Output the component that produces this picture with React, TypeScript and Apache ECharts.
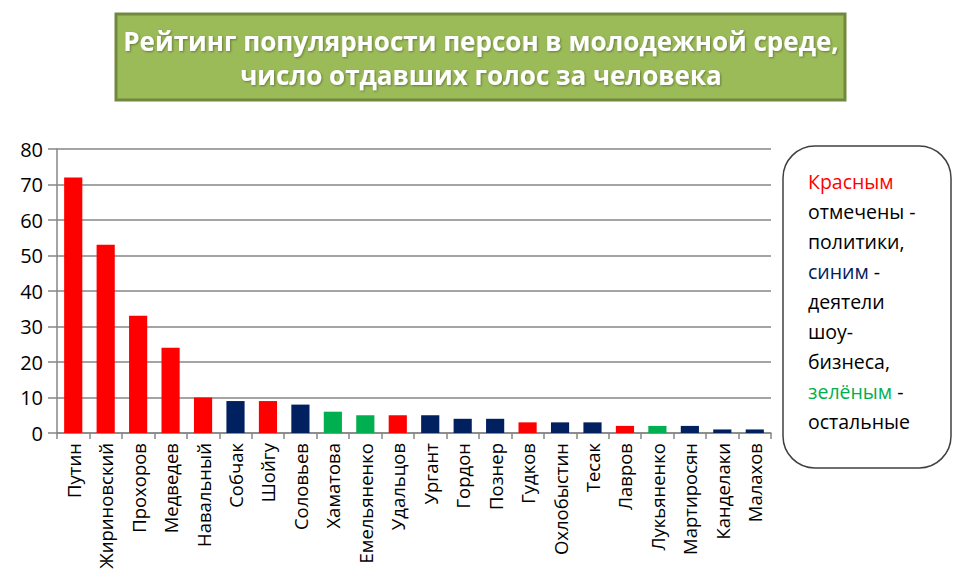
import React, { useEffect, useRef } from "react";
import * as echarts from "echarts";

const names = [
  "Путин", "Жириновский", "Прохоров", "Медведев", "Навальный", "Собчак", "Шойгу",
  "Соловьев", "Хаматова", "Емельяненко", "Удальцов", "Ургант", "Гордон", "Познер",
  "Гудков", "Охлобыстин", "Тесак", "Лавров", "Лукьяненко", "Мартиросян", "Канделаки", "Малахов",
];
const votes = [72, 53, 33, 24, 10, 9, 9, 8, 6, 5, 5, 5, 4, 4, 3, 3, 3, 2, 2, 2, 1, 1];
// p = politician, s = show business, o = others
const groups = ["p", "p", "p", "p", "p", "s", "p", "s", "o", "o", "p", "s", "s", "s", "p", "s", "s", "p", "o", "s", "s", "s"];
const yTicks = [0, 10, 20, 30, 40, 50, 60, 70, 80];

const RED = "#FF0000";
const NAVY = "#002060";
const GREEN = "#00B050";
const groupColor: Record<string, string> = { p: RED, s: NAVY, o: GREEN };

const FONT = "'Open Sans', 'Noto Sans', sans-serif";

export default function App() {
  const ref = useRef<HTMLDivElement>(null);
  useEffect(() => {
    document.body.style.margin = "0";
    const chart = echarts.init(ref.current!, undefined, { renderer: "svg" });
    chart.setOption({
      animation: false,
      backgroundColor: "#ffffff",
      grid: { left: 57, right: 182, top: 149, bottom: 145 },
      xAxis: {
        type: "category",
        data: names,
        boundaryGap: true,
        axisLine: { lineStyle: { color: "#868686", width: 1.5 } },
        axisTick: { show: true, interval: 0, length: 6, lineStyle: { color: "#868686", width: 1.5 } },
        axisLabel: {
          interval: 0,
          rotate: 90,
          margin: 10,
          fontSize: 18.5,
          color: "#000",
          fontFamily: FONT,
        },
      },
      yAxis: {
        type: "value",
        min: yTicks[0],
        max: yTicks[yTicks.length - 1],
        interval: 10,
        axisLine: { show: true, lineStyle: { color: "#868686", width: 1.5 } },
        axisTick: { show: true, length: 9, lineStyle: { color: "#868686", width: 1.5 } },
        splitLine: { lineStyle: { color: "#868686", width: 1.5 } },
        axisLabel: { fontSize: 20, color: "#000", margin: 14, fontFamily: FONT },
      },
      series: [
        {
          type: "bar",
          barWidth: "56%",
          data: votes.map((v, i) => ({ value: v, itemStyle: { color: groupColor[groups[i]] } })),
        },
      ],
      graphic: [
        {
          type: "rect",
          shape: { x: 116, y: 14, width: 729, height: 86 },
          style: { fill: "#9BBB59", stroke: "#71893F", lineWidth: 3 },
          z: 10,
        },
        {
          type: "text",
          x: 481,
          y: 58,
          style: {
            text: "Рейтинг популярности персон в молодежной среде,\nчисло отдавших голос за человека",
            fill: "#ffffff",
            font: `bold 26px ${FONT}`,
            align: "center",
            verticalAlign: "middle",
            lineHeight: 34,
            textShadowColor: "rgba(0,0,0,0.35)",
            textShadowBlur: 2,
            textShadowOffsetX: 1,
            textShadowOffsetY: 1,
          },
          z: 11,
        },
        {
          type: "rect",
          shape: { x: 783, y: 146, width: 168, height: 322, r: 32 },
          style: { fill: "#ffffff", stroke: "#404040", lineWidth: 1.5 },
          z: 10,
        },
        {
          type: "text",
          x: 808,
          y: 166,
          style: {
            text:
              "{r|Красным}\nотмечены -\nполитики,\n{b|синим} -\nдеятели\nшоу-\nбизнеса,\n{g|зелёным} -\nостальные",
            fill: "#000",
            font: `19.5px ${FONT}`,
            lineHeight: 30,
            rich: {
              r: { fill: RED, font: `19.5px ${FONT}`, lineHeight: 30 },
              b: { fill: NAVY, font: `19.5px ${FONT}`, lineHeight: 30 },
              g: { fill: GREEN, font: `19.5px ${FONT}`, lineHeight: 30 },
            },
          },
          z: 11,
        },
      ],
    });
    return () => chart.dispose();
  }, []);
  return <div ref={ref} style={{ width: 953, height: 578 }} />;
}
